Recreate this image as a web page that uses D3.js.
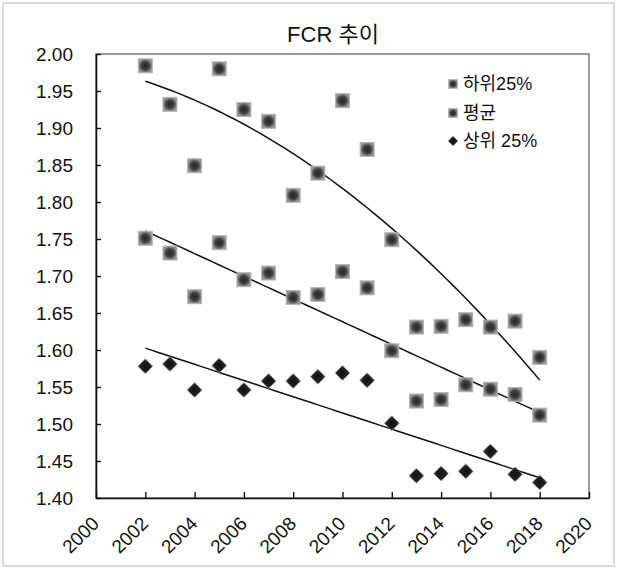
<!DOCTYPE html>
<html>
<head>
<meta charset="utf-8">
<script src="https://cdn.jsdelivr.net/npm/d3@7"></script>
<style>
  html, body { margin: 0; padding: 0; background: #fff; }
  svg { display: block; font-family: "Liberation Sans", Arial, "Noto Sans CJK KR", sans-serif; }
</style>
</head>
<body>
<div id="chart"></div>
<script>
// FCR values, 2002-2018
const years = d3.range(2002, 2019);
const lower25 = [1.984, 1.932, 1.849, 1.980, 1.925, 1.909, 1.809, 1.839, 1.937, 1.871, 1.749, 1.631, 1.632, 1.641, 1.631, 1.639, 1.590];
const average = [1.751, 1.731, 1.672, 1.745, 1.695, 1.704, 1.671, 1.675, 1.706, 1.684, 1.599, 1.531, 1.533, 1.553, 1.547, 1.540, 1.512];
const upper25 = [1.578, 1.581, 1.546, 1.579, 1.546, 1.558, 1.558, 1.564, 1.569, 1.559, 1.501, 1.430, 1.433, 1.436, 1.463, 1.432, 1.421];
const seriesNames = ["하위25%", "평균", "상위 25%"];
const xTicks = d3.range(2000, 2021, 2);
const yTicks = d3.range(1.40, 2.001, 0.05);

const width = 617, height = 568;
const margin = { top: 54, right: 28, bottom: 70, left: 96 };

const x = d3.scaleLinear().domain([2000, 2020]).range([margin.left, width - margin.right]);
const y = d3.scaleLinear().domain([1.40, 2.00]).range([height - margin.bottom, margin.top]);

// least squares polynomial fit (like excel trendline)
function polyfit(xs, ys, deg) {
  const n = deg + 1;
  const A = Array.from({ length: n }, () => new Array(n + 1).fill(0));
  xs.forEach((xv, k) => {
    for (let i = 0; i < n; i++) {
      for (let j = 0; j < n; j++) A[i][j] += Math.pow(xv, i + j);
      A[i][n] += ys[k] * Math.pow(xv, i);
    }
  });
  for (let i = 0; i < n; i++) {
    let p = i;
    for (let r = i + 1; r < n; r++) if (Math.abs(A[r][i]) > Math.abs(A[p][i])) p = r;
    [A[i], A[p]] = [A[p], A[i]];
    for (let r = 0; r < n; r++) {
      if (r === i) continue;
      const f = A[r][i] / A[i][i];
      for (let c = i; c <= n; c++) A[r][c] -= f * A[i][c];
    }
  }
  const coef = A.map((row, i) => row[n] / row[i]);
  return t => coef.reduce((s, c, i) => s + c * Math.pow(t, i), 0);
}

const svg = d3.select("#chart").append("svg")
  .attr("width", width)
  .attr("height", height);

const defs = svg.append("defs");
const sqGrad = defs.append("radialGradient").attr("id", "sqGrad");
sqGrad.append("stop").attr("offset", "0%").attr("stop-color", "#262626");
sqGrad.append("stop").attr("offset", "55%").attr("stop-color", "#3f3f3f");
sqGrad.append("stop").attr("offset", "100%").attr("stop-color", "#959595");
const dmGrad = defs.append("radialGradient").attr("id", "dmGrad");
dmGrad.append("stop").attr("offset", "0%").attr("stop-color", "#111");
dmGrad.append("stop").attr("offset", "70%").attr("stop-color", "#222");
dmGrad.append("stop").attr("offset", "100%").attr("stop-color", "#666");

// outer chart border
svg.append("rect")
  .attr("x", 3).attr("y", 3)
  .attr("width", width - 6).attr("height", height - 5)
  .attr("fill", "none")
  .attr("stroke", "#d9d9d9")
  .attr("stroke-width", 2);

// plot frame
svg.append("rect")
  .attr("x", x(2000)).attr("y", y(2.00))
  .attr("width", x(2020) - x(2000)).attr("height", y(1.40) - y(2.00))
  .attr("fill", "none")
  .attr("stroke", "#7a7a7a")
  .attr("stroke-width", 1.5);

svg.append("text")
  .attr("x", 333).attr("y", 42)
  .attr("text-anchor", "middle")
  .attr("font-size", 22)
  .attr("fill", "#111")
  .text("FCR 추이");

const yAxis = svg.append("g")
  .attr("transform", `translate(${x(2000)},0)`)
  .call(d3.axisLeft(y).tickValues(yTicks).tickFormat(d3.format(".2f")).tickSizeInner(-5).tickSizeOuter(0).tickPadding(23));

const xAxis = svg.append("g")
  .attr("transform", `translate(0,${y(1.40)})`)
  .call(d3.axisBottom(x).tickValues(xTicks).tickFormat(d3.format("d")).tickSizeInner(-6).tickSizeOuter(0));

xAxis.selectAll(".tick text")
  .attr("x", 0).attr("y", 0).attr("dy", "0.35em")
  .attr("text-anchor", "end")
  .attr("transform", "translate(-1,22) rotate(-45)");

[yAxis, xAxis].forEach(ax => {
  ax.select(".domain").attr("stroke", "#111").attr("stroke-width", 1.6);
  ax.selectAll(".tick line").attr("stroke", "#111").attr("stroke-width", 1.4);
  ax.selectAll(".tick text").attr("font-size", 19).attr("fill", "#111").attr("font-family", "Liberation Sans, Arial, sans-serif");
});

// trendlines
const fits = [polyfit(years, lower25, 2), polyfit(years, average, 1), polyfit(years, upper25, 1)];
const lineGen = d3.line().x(d => x(d[0])).y(d => y(d[1]));
fits.forEach(f => {
  const pts = d3.range(2002, 2018.01, 0.25).map(t => [t, f(t)]);
  svg.append("path")
    .attr("d", lineGen(pts))
    .attr("fill", "none")
    .attr("stroke", "#111")
    .attr("stroke-width", 1.5);
});

const sq = 14, dm = 15;
function squares(data) {
  svg.append("g").selectAll("rect")
    .data(data)
    .join("rect")
    .attr("x", (d, i) => x(years[i]) - sq / 2)
    .attr("y", d => y(d) - sq / 2)
    .attr("width", sq).attr("height", sq)
    .attr("fill", "url(#sqGrad)")
    .attr("stroke", "#b5b5b5")
    .attr("stroke-width", 1);
}
squares(lower25);
squares(average);

const diamond = s => `M0,${-s / 2}L${s / 2},0L0,${s / 2}L${-s / 2},0Z`;
svg.append("g").selectAll("path")
  .data(upper25)
  .join("path")
  .attr("transform", (d, i) => `translate(${x(years[i])},${y(d)})`)
  .attr("d", diamond(dm))
  .attr("fill", "url(#dmGrad)")
  .attr("stroke", "#999")
  .attr("stroke-width", 0.6);

// legend
const legend = svg.append("g").attr("transform", "translate(453,84)");
seriesNames.forEach((name, i) => {
  const g = legend.append("g").attr("transform", `translate(0,${[0, 29, 57][i]})`);
  if (i < 2) {
    g.append("rect").attr("x", -4.5).attr("y", -4.5).attr("width", 9).attr("height", 9)
      .attr("fill", "url(#sqGrad)").attr("stroke", "#b5b5b5").attr("stroke-width", 0.8);
  } else {
    g.append("path").attr("d", diamond(10)).attr("fill", "url(#dmGrad)");
  }
  g.append("text")
    .attr("x", 10).attr("y", 0).attr("dy", "0.36em")
    .attr("font-size", 18)
    .attr("fill", "#111")
    .text(name);
});
</script>
</body>
</html>
